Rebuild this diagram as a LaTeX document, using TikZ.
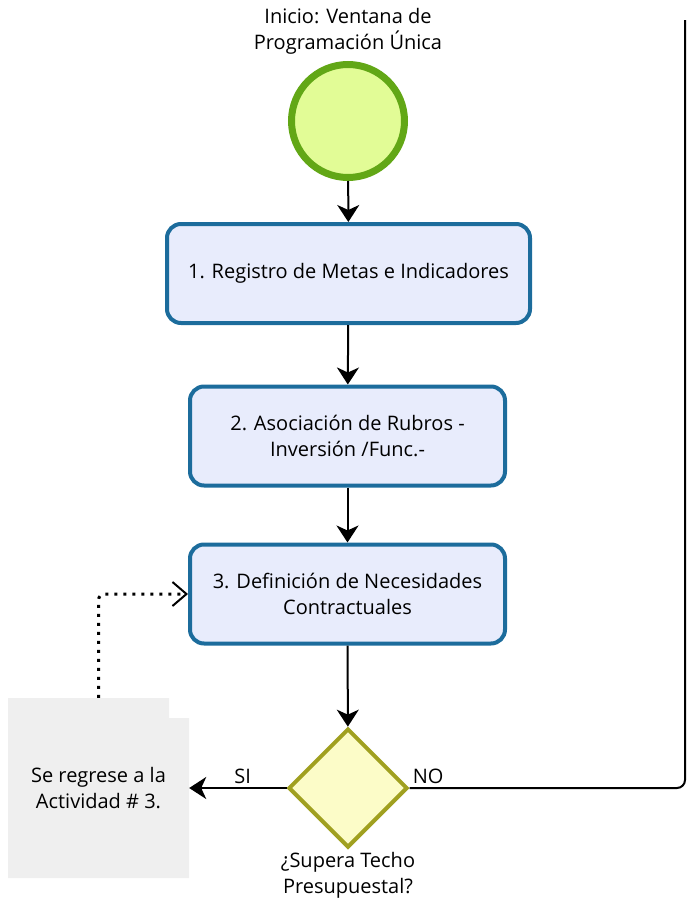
\documentclass[tikz,border=0pt]{standalone}
\usepackage{fontspec}
\setmainfont{Open Sans}
\usetikzlibrary{shapes.geometric,positioning,arrows.meta}
\definecolor{taskline}{HTML}{1C6C9C}
\definecolor{taskfill}{HTML}{E8ECFC}
\definecolor{startline}{HTML}{62A716}
\definecolor{startfill}{HTML}{E2FC96}
\definecolor{gateline}{HTML}{A0A020}
\definecolor{gatefill}{HTML}{FCFCC8}
\definecolor{notefill}{HTML}{EFEFEF}
\tikzset{
  task/.style={draw=taskline,fill=taskfill,line width=4pt,rounded corners=14pt,
    align=center,minimum height=99pt},
  startev/.style={circle,draw=startline,fill=startfill,line width=7pt,minimum size=113pt},
  gate/.style={diamond,draw=gateline,fill=gatefill,line width=4pt,minimum size=119pt,inner sep=0pt},
  flow/.style={line width=2pt,-{Stealth[length=17pt,width=22pt,inset=5pt]}},
  txt/.style={font=\fontsize{20}{26}\selectfont,align=center}
}
\begin{document}
\begin{tikzpicture}[x=1pt,y=-1pt,txt]
\useasboundingbox (0,0) rectangle (686,902);
% start event and activities
\node[startev] (start) at (348,121) {};
\node[above=3pt of start] {Inicio: Ventana de\\Programación Única};
\node[task,minimum width=363pt] (act1) at (348.5,273.5) {1. Registro de Metas e Indicadores};
\node[task,minimum width=315pt] (act2) at (347.5,436) {2. Asociación de Rubros -\\Inversión /Func.-};
\node[task,minimum width=315pt] (act3) at (347.5,594) {3. Definición de Necesidades\\Contractuales};
% gateway
\node[gate] (dec) at (348,788) {};
\node[below=-1pt of dec] {¿Supera Techo\\Presupuestal?};
% annotation
\fill[notefill] (8,698) -- (169,698) -- (169,718) -- (189,718) -- (189,878) -- (8,878) -- cycle;
\node[minimum width=181pt,minimum height=180pt] (note) at (98.5,788) {Se regrese a la\\Actividad \# 3.};
\coordinate (loopend) at (685,20);
% flows
\draw[flow] (start) -- (act1);
\draw[flow] (act1) -- (act2);
\draw[flow] (act2) -- (act3);
\draw[flow] (act3) -- (dec);
\draw[flow] (dec.west) -- node[above,pos=0.45] {SI} (note.east);
\draw[line width=2pt,rounded corners=8pt] (dec.east) -- node[above right=0pt and -1pt,pos=0] {NO} (loopend |- dec.east) -- (loopend);
\draw[line width=3pt,dash pattern=on 3pt off 6pt,rounded corners=6pt,-{Straight Barb[length=14pt,width=24pt,line width=2pt]}]
  (note.north) |- (act3.west);
\end{tikzpicture}
\end{document}
